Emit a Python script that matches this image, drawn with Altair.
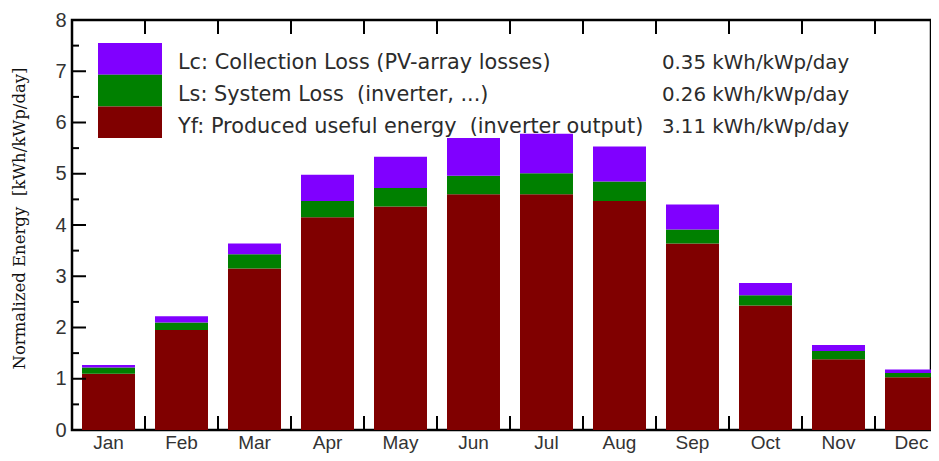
import altair as alt
import pandas as pd

# ---- data ----
months = ["Jan", "Feb", "Mar", "Apr", "May", "Jun", "Jul", "Aug", "Sep", "Oct", "Nov", "Dec"]
yf = [1.10, 1.95, 3.15, 4.15, 4.36, 4.60, 4.60, 4.47, 3.64, 2.43, 1.38, 1.03]   # produced useful energy
ls = [0.12, 0.15, 0.28, 0.32, 0.36, 0.36, 0.41, 0.38, 0.27, 0.20, 0.16, 0.08]   # system loss
lc = [0.05, 0.12, 0.21, 0.51, 0.61, 0.74, 0.77, 0.68, 0.49, 0.24, 0.12, 0.07]   # collection loss

series_keys = ["Lc", "Ls", "Yf"]
series_colors = ["#8000ff", "#008000", "#800000"]
NB = "\u00a0"
legend_labels = [
    "Lc: Collection Loss (PV-array losses)",
    "Ls: System Loss " + NB + "(inverter, ...)",
    "Yf: Produced useful energy " + NB + "(inverter output)",
]
legend_values = ["0.35 kWh/kWp/day", "0.26 kWh/kWp/day", "3.11 kWh/kWp/day"]
y_tick_labels = [0, 1, 2, 3, 4, 5, 6, 7, 8]
y_major = [1, 2, 3, 4, 5, 6, 7]
y_minor = [0.5, 1.5, 2.5, 3.5, 4.5, 5.5, 6.5, 7.5]
y_title = "Normalized Energy " + NB + "[kWh/kWp/day]"

# ---- tables ----
rows = []
for m, a, b, c in zip(months, yf, ls, lc):
    rows.append({"month": m, "key": "Yf", "value": a, "order": 0})
    rows.append({"month": m, "key": "Ls", "value": b, "order": 1})
    rows.append({"month": m, "key": "Lc", "value": c, "order": 2})
bars_df = pd.DataFrame(rows)
major_df = pd.DataFrame({"value": y_major})
minor_df = pd.DataFrame({"value": y_minor})
bound_df = pd.DataFrame({"month": months[1:]})

# ---- layout ----
STEP = 73
PLOT_W = 859            # visible part; the band range runs past it like the cut-off reference
PLOT_H = 410
PAD_IN = 0.274
HALF_GAP = STEP * PAD_IN / 2

xscale = alt.Scale(domain=months, range=[0, STEP * len(months)],
                   paddingInner=PAD_IN, paddingOuter=PAD_IN / 2)
yscale = alt.Scale(domain=[0, 8], nice=False, zero=True)

LABEL_FONT = "Liberation Sans"
TEXT_COLOR = "#333333"

bars = alt.Chart(bars_df).mark_bar().encode(
    x=alt.X("month:N", sort=months, scale=xscale,
            axis=alt.Axis(title=None, labelAngle=0, labelFont=LABEL_FONT, labelFontSize=19,
                          labelColor=TEXT_COLOR, ticks=False, tickSize=0, domain=False,
                          grid=False, labelPadding=3.5, labelBaseline="top")),
    y=alt.Y("value:Q", stack="zero", scale=yscale,
            axis=alt.Axis(title=y_title, values=y_tick_labels, ticks=False, tickSize=0,
                          domain=False, grid=False, labelFont=LABEL_FONT, labelFontSize=20,
                          labelColor=TEXT_COLOR, labelPadding=6,
                          titleFont="DejaVu Serif", titleFontSize=16.5, titleFontWeight="normal",
                          titleColor="#111111", titleX=-45, titleY=198)),
    color=alt.Color("key:N", scale=alt.Scale(domain=series_keys, range=series_colors), legend=None),
    order=alt.Order("order:Q", sort="ascending"),
)

major_ticks = alt.Chart(major_df).mark_rule(color="black", strokeWidth=2).encode(
    y=alt.Y("value:Q", scale=yscale), x=alt.value(0), x2=alt.value(14))
minor_ticks = alt.Chart(minor_df).mark_rule(color="black", strokeWidth=2).encode(
    y=alt.Y("value:Q", scale=yscale), x=alt.value(0), x2=alt.value(7))

bottom_ticks = alt.Chart(bound_df).mark_rule(color="black", strokeWidth=2, xOffset=-HALF_GAP).encode(
    x=alt.X("month:N", sort=months, scale=xscale, bandPosition=0),
    y=alt.value(PLOT_H), y2=alt.value(PLOT_H - 14))
top_ticks = alt.Chart(bound_df).mark_rule(color="black", strokeWidth=2, xOffset=-HALF_GAP).encode(
    x=alt.X("month:N", sort=months, scale=xscale, bandPosition=0),
    y=alt.value(0), y2=alt.value(14))

# ---- legend (drawn inside the plot) ----
legend_layers = []
SW_TOP = 23
ROW_H = 31.7
for i, (key, col, lab, val) in enumerate(zip(series_keys, series_colors, legend_labels, legend_values)):
    one = pd.DataFrame({"key": [key], "label": [lab], "val": [val]})
    y0 = SW_TOP + i * ROW_H
    legend_layers.append(
        alt.Chart(one).mark_rect(color=col).encode(
            x=alt.value(26), x2=alt.value(90), y=alt.value(y0), y2=alt.value(y0 + ROW_H)))
    base_y = 49 + i * 32
    legend_layers.append(
        alt.Chart(one).mark_text(align="left", baseline="alphabetic", font="DejaVu Sans",
                                 fontSize=20.8, color="#2b2b2b").encode(
            x=alt.value(106), y=alt.value(base_y), text="label:N"))
    legend_layers.append(
        alt.Chart(one).mark_text(align="left", baseline="alphabetic", font="DejaVu Sans",
                                 fontSize=19.8, color="#2b2b2b").encode(
            x=alt.value(590), y=alt.value(base_y), text="val:N"))

chart = alt.layer(bars, major_ticks, minor_ticks, bottom_ticks, top_ticks, *legend_layers).properties(
    width=PLOT_W, height=PLOT_H,
    autosize=alt.AutoSizeParams(type="none"),
    padding={"left": 64, "top": 12, "right": 0, "bottom": 23},
    background="white",
).configure_view(stroke="black", strokeWidth=2.5)

chart.save("out.html", embed_options={"renderer": "svg", "actions": False})
